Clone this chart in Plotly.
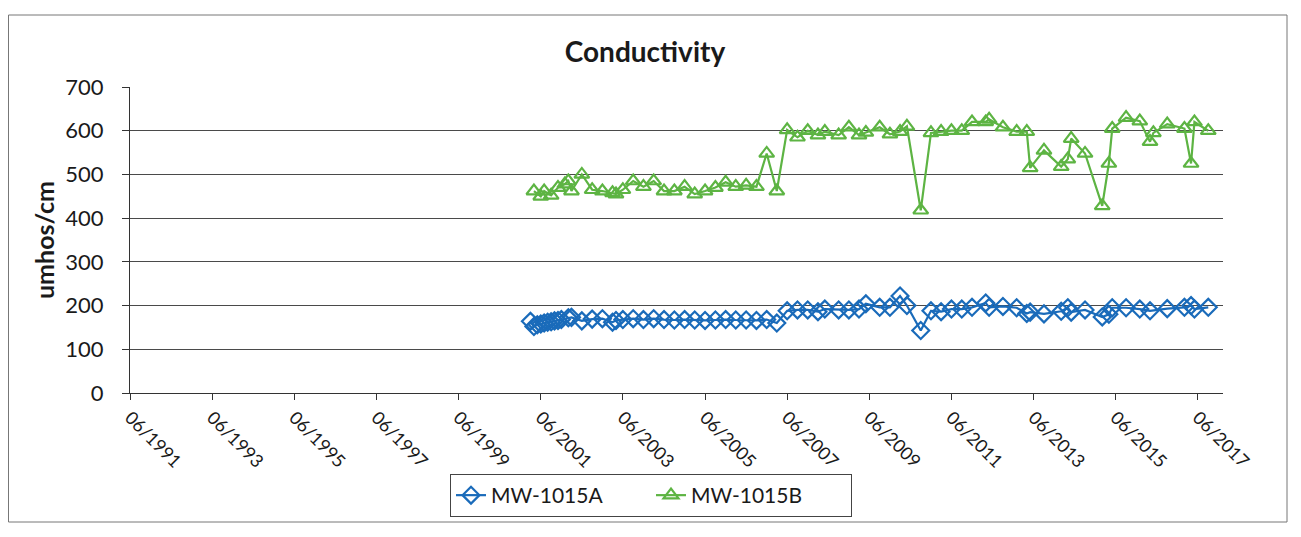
import plotly.graph_objects as go

# ---------------- data ----------------
dates_a = [
    "2001-03-01", "2001-04-01", "2001-05-01", "2001-06-01", "2001-07-01", "2001-08-01",
    "2001-09-01", "2001-10-01", "2001-11-01", "2001-12-01", "2002-02-01", "2002-03-01",
    "2002-06-01", "2002-09-01", "2002-12-01", "2003-03-01", "2003-04-01", "2003-06-01",
    "2003-09-01", "2003-12-01", "2004-03-01", "2004-06-01", "2004-09-01", "2004-12-01",
    "2005-03-01", "2005-06-01", "2005-09-01", "2005-12-01", "2006-03-01", "2006-06-01",
    "2006-09-01", "2006-12-01", "2007-03-01", "2007-06-01", "2007-09-01", "2007-12-01",
    "2008-03-01", "2008-05-01", "2008-09-01", "2008-12-01", "2009-03-01", "2009-05-01",
    "2009-09-01", "2009-12-01", "2010-03-01", "2010-05-01", "2010-09-01", "2010-12-01",
    "2011-03-01", "2011-06-01", "2011-09-01", "2011-12-01", "2012-04-01", "2012-05-01",
    "2012-09-01", "2013-01-01", "2013-04-01", "2013-05-01", "2013-09-01", "2014-02-01",
    "2014-04-01", "2014-05-01", "2014-09-01", "2015-02-01", "2015-04-01", "2015-05-01",
    "2015-09-01", "2016-01-01", "2016-04-01", "2016-09-01", "2017-02-01", "2017-04-01",
    "2017-05-01", "2017-09-01",
]
mw_1015a = [
    164, 152, 156, 158, 160, 162,
    163, 165, 166, 168, 172, 173,
    165, 169, 170, 162, 166, 168,
    170, 168, 170, 168, 167, 168,
    167, 166, 167, 168, 167, 167,
    166, 168, 160, 188, 190, 190,
    186, 192, 190, 190, 192, 204,
    196, 196, 222, 200, 143, 188,
    186, 192, 192, 196, 206, 196,
    198, 195, 182, 185, 181, 187,
    195, 185, 190, 174, 180, 195,
    195, 192, 188, 193, 196, 200,
    192, 196,
]

dates_b = [
    "2001-04-01", "2001-06-01", "2001-07-01", "2001-09-01", "2001-11-01", "2002-01-01",
    "2002-02-01", "2002-03-01", "2002-06-01", "2002-09-01", "2002-12-01", "2003-03-01",
    "2003-04-01", "2003-06-01", "2003-09-01", "2003-12-01", "2004-03-01", "2004-06-01",
    "2004-09-01", "2004-12-01", "2005-03-01", "2005-06-01", "2005-09-01", "2005-12-01",
    "2006-03-01", "2006-06-01", "2006-09-01", "2006-12-01", "2007-03-01", "2007-06-01",
    "2007-09-01", "2007-12-01", "2008-03-01", "2008-05-01", "2008-09-01", "2008-12-01",
    "2009-03-01", "2009-05-01", "2009-09-01", "2009-12-01", "2010-03-01", "2010-05-01",
    "2010-09-01", "2010-12-01", "2011-03-01", "2011-06-01", "2011-09-01", "2011-12-01",
    "2012-04-01", "2012-05-01", "2012-09-01", "2013-01-01", "2013-04-01", "2013-05-01",
    "2013-09-01", "2014-02-01", "2014-04-01", "2014-05-01", "2014-09-01", "2015-02-01",
    "2015-04-01", "2015-05-01", "2015-09-01", "2016-01-01", "2016-04-01", "2016-05-01",
    "2016-09-01", "2017-02-01", "2017-04-01", "2017-05-01", "2017-09-01",
]
mw_1015b = [
    462, 450, 462, 452, 470, 478,
    485, 462, 500, 465, 462, 458,
    455, 465, 485, 472, 485, 462,
    462, 472, 455, 462, 470, 482,
    472, 475, 472, 548, 462, 602,
    585, 600, 590, 598, 590, 608,
    590, 596, 608, 592, 598, 610,
    418, 595, 598, 600, 600, 620,
    620, 626, 608, 598, 598, 515,
    555, 518, 535, 582, 548, 428,
    525, 605, 630, 622, 575, 595,
    615, 605, 525, 620, 600,
]

y_ticks = [0, 100, 200, 300, 400, 500, 600, 700]
x_range = ["1991-06-01", "2018-01-10"]
x_tick0 = "1991-06-01"

# ---------------- figure ----------------
FONT = "Lato, 'Open Sans', sans-serif"
BLUE = "#1a6bba"
GREEN = "#5db443"

fig = go.Figure()
fig.add_trace(go.Scatter(
    x=dates_a, y=mw_1015a, name="MW-1015A", mode="lines+markers",
    line=dict(color=BLUE, width=2.2),
    marker=dict(symbol="diamond-open", size=13, color=BLUE, line=dict(width=2.2, color=BLUE)),
))
fig.add_trace(go.Scatter(
    x=dates_b, y=mw_1015b, name="MW-1015B", mode="lines+markers",
    line=dict(color=GREEN, width=2.2),
    marker=dict(symbol="triangle-up-open", size=13, color=GREEN, line=dict(width=2.2, color=GREEN)),
))

# page offset (body margin) compensation
OFF = 8
W, H = 1301, 537
L, T = 130 - OFF, 87 - OFF
plot_r, plot_b = 1223 - OFF, 393 - OFF
R, B = W - plot_r, H - plot_b
pw, ph = plot_r - L, plot_b - T

def px(x):
    return (x - OFF - L) / pw

def py(y):
    return (plot_b - (y - OFF)) / ph

fig.update_layout(
    width=W, height=H,
    margin=dict(l=L, r=R, t=T, b=B, autoexpand=False),
    paper_bgcolor="white", plot_bgcolor="white",
    font=dict(family=FONT, color="#1a1a1a"),
    title=dict(text="<b>Conductivity</b>", x=(645 - OFF) / W, xref="container", xanchor="center",
               y=1 - (52 - OFF) / H, yref="container", yanchor="middle",
               font=dict(size=28, family=FONT, color="#1a1a1a")),
    showlegend=True,
    legend=dict(orientation="h", x=px(651), xanchor="center", y=py(474), yanchor="top",
                bordercolor="#444", borderwidth=1, font=dict(size=21, family=FONT),
                entrywidth=155, entrywidthmode="pixels", bgcolor="white"),
    xaxis=dict(
        type="date", range=x_range, tick0=x_tick0, dtick="M24", tickformat="%m/%Y",
        tickangle=45, tickfont=dict(size=18, family=FONT, color="#1a1a1a"),
        ticks="outside", ticklen=6, tickcolor="#333",
        showline=True, linecolor="#333", linewidth=1, showgrid=False, zeroline=False,
    ),
    yaxis=dict(
        range=[0, 700], tickvals=y_ticks, tickfont=dict(size=22, family=FONT, color="#1a1a1a"),
        ticks="outside", ticklen=7, tickcolor="#333", ticklabelstandoff=14,
        showline=True, linecolor="#333", linewidth=1,
        showgrid=True, gridcolor="#4a4a4a", gridwidth=1, zeroline=False,
    ),
    annotations=[dict(text="<b>umhos/cm</b>", x=px(44), y=py(240), xref="paper", yref="paper",
                      xanchor="center", yanchor="middle",
                      textangle=-90, showarrow=False, font=dict(size=25, family=FONT, color="#1a1a1a"))],
    shapes=[dict(type="rect", xref="paper", yref="paper",
                 x0=px(8.5), x1=px(1287), y0=py(522), y1=py(15),
                 line=dict(color="#777", width=1), fillcolor="rgba(0,0,0,0)", layer="below")],
)

fig.write_html("out.html")
